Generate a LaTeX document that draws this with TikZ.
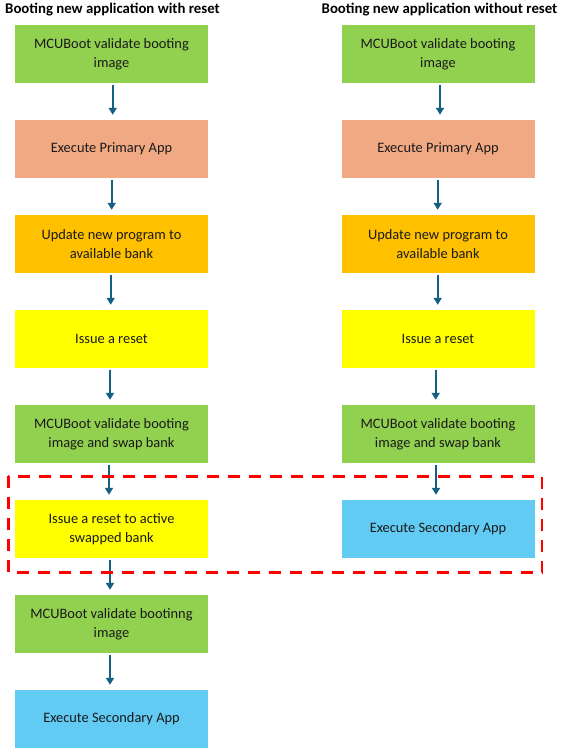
\documentclass[tikz,border=0pt]{standalone}
\usepackage{fontspec}
\setmainfont{Carlito}
\usetikzlibrary{arrows.meta}
\definecolor{cgreen}{HTML}{92D050}
\definecolor{csalmon}{HTML}{F1A983}
\definecolor{corange}{HTML}{FFC000}
\definecolor{cyellow}{HTML}{FFFF00}
\definecolor{cblue}{HTML}{61CBF3}
\definecolor{carrow}{HTML}{156082}
\definecolor{ctext}{HTML}{1A1A1A}
\tikzset{
  box/.style={rectangle, draw=none, minimum width=193pt, minimum height=57.5pt,
    inner sep=0pt, align=center, text=ctext,
    font=\fontsize{14.4pt}{19pt}\selectfont},
  gbox/.style={box, fill=cgreen},
  sbox/.style={box, fill=csalmon},
  obox/.style={box, fill=corange},
  ybox/.style={box, fill=cyellow},
  bbox/.style={box, fill=cblue},
  flow/.style={draw=carrow, line width=2pt, -{Triangle[length=7pt,width=8pt]},
    shorten <=2pt, shorten >=5pt},
  title/.style={inner sep=0pt, anchor=west, text=black,
    font=\fontsize{14.8pt}{17pt}\selectfont\bfseries},
  frame/.style={draw=red, line width=2.8pt, dash pattern=on 12pt off 9pt}
}
\begin{document}
\begin{tikzpicture}[x=1pt,y=-1pt]
\useasboundingbox (0,0) rectangle (562,752);
% titles
\node[title] (t1) at (5,9.5) {Booting new application with reset};
\node[title] (t2) at (321.5,9.5) {Booting new application without reset};
% left column
\node[gbox] (l1) at (111.5,53.75) {MCUBoot validate booting\\image};
\node[sbox] (l2) at (111.5,148.75) {Execute Primary App};
\node[obox] (l3) at (111.5,243.75) {Update new program to\\available bank};
\node[ybox] (l4) at (111.5,338.75) {Issue a reset};
\node[gbox] (l5) at (111.5,433.75) {MCUBoot validate booting\\image and swap bank};
\node[ybox] (l6) at (111.5,528.75) {Issue a reset to active\\swapped bank};
\node[gbox] (l7) at (111.5,623.75) {MCUBoot validate bootinng\\image};
\node[bbox] (l8) at (111.5,718.75) {Execute Secondary App};
% right column
\node[gbox] (r1) at (438,53.75) {MCUBoot validate booting\\image};
\node[sbox] (r2) at (438,148.75) {Execute Primary App};
\node[obox] (r3) at (438,243.75) {Update new program to\\available bank};
\node[ybox] (r4) at (438,338.75) {Issue a reset};
\node[gbox] (r5) at (438,433.75) {MCUBoot validate booting\\image and swap bank};
\node[bbox] (r6) at (438,528.75) {Execute Secondary App};
% arrows left
\draw[flow] ([xshift=1.2pt]l1.south) -- ([xshift=1.2pt]l2.north);
\draw[flow] ([xshift=0.2pt]l2.south) -- ([xshift=0.2pt]l3.north);
\draw[flow] ([xshift=-0.8pt]l3.south) -- ([xshift=-0.8pt]l4.north);
\draw[flow] ([xshift=-1.5pt]l4.south) -- ([xshift=-1.5pt]l5.north);
\draw[flow] ([xshift=-2.5pt]l5.south) -- ([xshift=-2.5pt]l6.north);
\draw[flow] ([xshift=-1.5pt]l6.south) -- ([xshift=-1.5pt]l7.north);
\draw[flow] ([xshift=-1.5pt]l7.south) -- ([xshift=-1.5pt]l8.north);
% arrows right
\draw[flow] ([xshift=2pt]r1.south) -- ([xshift=2pt]r2.north);
\draw[flow] ([xshift=-0.3pt]r2.south) -- ([xshift=-0.3pt]r3.north);
\draw[flow] ([xshift=-0.3pt]r3.south) -- ([xshift=-0.3pt]r4.north);
\draw[flow] ([xshift=-2.3pt]r4.south) -- ([xshift=-2.3pt]r5.north);
\draw[flow] ([xshift=-2pt]r5.south) -- ([xshift=-2pt]r6.north);
% highlight frame
\coordinate (fa) at (8.3,476.3);
\coordinate (fb) at (542,572.7);
\draw[frame] (fa) rectangle (fb);
\end{tikzpicture}
\end{document}
